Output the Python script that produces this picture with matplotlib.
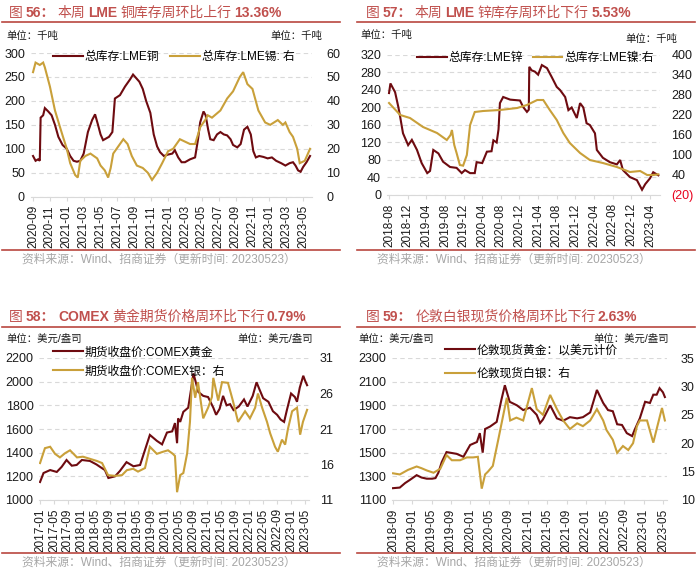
import matplotlib
matplotlib.use('Agg')
import matplotlib.pyplot as plt
from matplotlib.lines import Line2D
import numpy as np

plt.rcParams['font.family'] = ['Liberation Sans', 'Noto Sans CJK SC']
plt.rcParams['axes.unicode_minus'] = False

# ---------------- data (t = months since first x tick) ----------------
# fig 56: LME copper (left, kt) / LME tin (right, kt), t=0 -> 2020-09
cu_t = [0, 0.3, 0.6, 0.8, 0.9, 1.2, 1.4, 1.8, 2.2, 2.6, 3.0, 3.5, 4.0, 4.4, 4.8, 5.2, 5.6, 6.0, 6.5, 7.0,
        7.35, 7.7, 8.0, 8.3, 8.7, 9.0, 9.4, 9.7, 10.3, 10.9, 11.5, 11.85, 12.2, 12.6, 13.0, 13.4, 13.9, 14.3,
        14.7, 15.05, 15.5, 16.0, 16.5, 16.8, 17.2, 17.6, 18.0, 18.6, 19.2, 19.55, 19.8, 20.2, 20.45, 20.75,
        21.0, 21.4, 21.8, 22.2, 22.6, 23.0, 23.4, 23.7, 24.2, 24.6, 25.0, 25.4, 25.8, 26.1, 26.4, 26.8, 27.3,
        27.8, 28.3, 28.8, 29.4, 29.9, 30.4, 30.8, 31.1, 31.4, 31.7, 32.0, 32.4, 32.82]
cu_v = [85, 75, 78, 75, 165, 170, 185, 178, 170, 150, 125, 108, 100, 85, 75, 73, 75, 90, 135, 160,
        172, 150, 130, 118, 122, 125, 135, 205, 212, 230, 245, 255, 248, 240, 225, 200, 175, 130,
        105, 93, 85, 88, 90, 97, 82, 72, 72, 78, 82, 120, 155, 178, 170, 140,
        120, 118, 130, 135, 130, 128, 120, 108, 103, 110, 140, 146, 130, 95, 82, 85, 83,
        80, 82, 75, 70, 65, 70, 72, 65, 55, 52, 62, 72, 85]
sn_t = [0, 0.3, 0.8, 1.2, 1.4, 1.7, 2.0, 2.6, 3.2, 3.55, 4.0, 4.4, 5.0, 5.3, 5.6, 6.2, 6.8, 7.6, 8.0, 8.5,
        8.9, 9.2, 9.5, 10.1, 10.7, 11.2, 11.7, 12.3, 13.0, 13.6, 14.1, 14.7, 15.3, 16.0, 16.6, 17.4, 18.0,
        18.6, 19.2, 19.55, 19.8, 20.4, 20.7, 21.2, 22.2, 23.0, 23.7, 24.5, 24.9, 25.4, 26.0, 26.7, 27.5,
        28.1, 29.0, 29.6, 29.9, 30.4, 30.8, 31.3, 31.6, 32.2, 32.82]
sn_v = [52, 56, 55, 56, 54, 50, 46, 36, 29, 25, 20, 14, 9, 8, 15, 17, 18, 16, 13, 11,
        8, 12, 18, 21, 24, 22, 17, 13, 12, 10, 7, 10, 14, 19, 20, 24, 23,
        22, 22, 26, 29, 32, 34, 33, 36, 41, 44, 50, 52, 47, 45, 36, 31,
        30, 32, 30, 31, 27, 25, 20, 14, 15, 20]
x56 = ['2020-09', '2020-11', '2021-01', '2021-03', '2021-05', '2021-07', '2021-09', '2021-11', '2022-01',
       '2022-03', '2022-05', '2022-07', '2022-09', '2022-11', '2023-01', '2023-03', '2023-05']

# fig 57: LME zinc (left) / LME nickel (right), t=0 -> 2018-08
zn_t = [0.0, 0.3, 1.3, 2.0, 2.4, 3.0, 4.1, 4.9, 6.0, 7.0, 8.2, 8.8, 9.5, 10.6, 11.6, 13.1, 14.5, 15.6, 16.3,
        17.4, 18.4, 18.8, 20.0, 21.0, 22.0, 22.4, 23.1, 23.5, 23.8, 24.5, 26.0, 28.1, 28.8, 29.6, 30.0,
        30.1, 30.6, 31.3, 32.0, 32.8, 33.9, 34.9, 36.0, 36.7, 37.8, 38.5, 39.2, 40.3, 41.0, 41.7, 42.4,
        43.1, 44.2, 44.6, 45.9, 47.4, 48.9, 49.6, 50.2, 51.7, 53.2, 54.3, 55.0, 56.0, 56.7, 57.8]
zn_v = [233, 255, 235, 201, 178, 141, 114, 126, 103, 73, 50, 55, 103, 95, 76, 64, 62, 50, 57,
        50, 50, 75, 73, 99, 100, 125, 120, 150, 210, 224, 218, 216, 201, 190, 195,
        293, 285, 282, 275, 297, 290, 270, 247, 240, 224, 194, 200, 176, 210, 200, 164,
        160, 141, 103, 85, 75, 70, 80, 57, 41, 34, 12, 25, 38, 52, 45]
ni_t = [0, 2.4, 4.5, 7.3, 10.3, 12.4, 13.2, 13.5, 14.0, 14.5, 15.2, 15.9, 16.7, 17.4, 18.4, 20.2, 23.8,
        27.5, 29.6, 31.8, 33.1, 34.5, 36.0, 37.4, 38.8, 41.0, 43.1, 45.9, 48.9, 51.7, 53.9, 55.4, 56.7, 57.8]
ni_v = [256, 220, 211, 184, 166, 145, 160, 175, 130, 106, 70, 68, 100, 190, 229, 232, 235,
        241, 250, 265, 265, 235, 205, 166, 136, 106, 85, 76, 64, 49, 52, 40, 40, 42]
x57 = ['2018-08', '2018-12', '2019-04', '2019-08', '2019-12', '2020-04', '2020-08', '2020-12', '2021-04',
       '2021-08', '2021-12', '2022-04', '2022-08', '2022-12', '2023-04']

# fig 58: COMEX gold (left) / COMEX silver (right), t=0 -> 2017-01
au_t = [0, 1.0, 2.9, 4.8, 6.2, 7.6, 9.1, 10.5, 12.0, 14.3, 16.2, 17.2, 18.6, 19.6, 21.5, 22.9, 24.8, 26.8,
        28.7, 30.1, 31.5, 33.5, 35.0, 36.4, 37.9, 38.7, 39.3, 39.6, 40.2, 41.1, 42.5, 43.5, 44.0, 45.4,
        46.8, 48.2, 49.7, 50.5, 51.5, 52.5, 53.5, 54.5, 55.5, 57.0, 58.5, 59.5, 61.0, 62.1, 63.0, 64.0,
        65.5, 66.8, 68.0, 69.0, 70.0, 70.8, 72.0, 73.1, 73.7, 74.5, 75.5, 76.0, 76.6]
au_v = [1152, 1228, 1253, 1237, 1280, 1338, 1290, 1296, 1338, 1330, 1300, 1280, 1253, 1186, 1200, 1245,
        1320, 1285, 1296, 1423, 1550, 1500, 1470, 1570, 1580, 1650, 1480, 1690, 1660, 1745, 1780, 1970,
        2070, 1913, 1880, 1870, 1780, 1720, 1770, 1880, 1800, 1810, 1760, 1790, 1850, 1790, 1880, 1995,
        1930, 1860, 1830, 1750, 1720, 1680, 1660, 1760, 1900, 1870, 1830, 1950, 2050, 2010, 1970]
ag_t = [0, 1.4, 2.9, 4.3, 5.7, 7.2, 8.6, 10.6, 12.3, 14.3, 16.3, 17.8, 19.5, 21.5, 23.5, 24.9, 26.7, 28.1,
        30.1, 31.5, 33.5, 35.3, 36.7, 38.1, 38.7, 39.3, 40.2, 41.1, 42.2, 43.0, 43.6, 44.5, 45.3, 46.8,
        48.2, 49.3, 49.7, 51.1, 52.2, 53.9, 55.3, 56.8, 58.8, 60.2, 61.7, 62.5, 63.7, 65.1, 66.0, 67.4,
        68.2, 69.4, 70.3, 71.1, 72.3, 73.7, 74.6, 75.4, 76.6]
ag_v = [16.2, 18.3, 18.5, 17.5, 17.0, 17.6, 18.0, 17.0, 17.1, 16.8, 16.5, 16.2, 14.5, 14.4, 14.5, 15.2,
        15.4, 15.0, 15.5, 18.5, 17.5, 17.8, 18.0, 17.5, 17.2, 12.1, 14.5, 14.8, 17.6, 22.0, 28.2, 25.4,
        27.6, 22.5, 24.0, 25.5, 28.2, 25.0, 27.6, 27.5, 25.0, 22.0, 23.5, 22.5, 24.0, 26.0, 24.0, 22.0,
        20.4, 18.5, 17.8, 19.5, 18.8, 21.0, 23.5, 24.0, 20.2, 22.0, 23.7]
x58 = ['2017-01', '2017-05', '2017-09', '2018-01', '2018-05', '2018-09', '2019-01', '2019-05', '2019-09',
       '2020-01', '2020-05', '2020-09', '2021-01', '2021-05', '2021-09', '2022-01', '2022-05', '2022-09',
       '2023-01', '2023-05']

# fig 59: London spot gold (left) / London spot silver (right), t=0 -> 2018-09
lg_t = [0, 1.4, 2.5, 3.5, 4.9, 5.9, 7.0, 8.1, 8.8, 9.4, 10.1, 11.1, 11.8, 13.2, 14.6, 16.0, 17.4, 18.0,
        18.6, 19.1, 20.1, 21.5, 22.5, 23.2, 24.2, 25.7, 27.0, 28.4, 29.8, 30.5, 31.1, 32.6, 34.0, 35.3,
        36.7, 38.2, 39.4, 40.9, 42.3, 43.6, 44.6, 45.6, 46.5, 47.5, 48.5, 49.6, 50.2, 51.2, 52.3, 53.3,
        54.0, 54.7, 55.3, 56.0, 56.4]
lg_v = [1200, 1205, 1243, 1270, 1310, 1290, 1280, 1280, 1285, 1330, 1420, 1505, 1500, 1490, 1465, 1565,
        1590, 1665, 1500, 1700, 1720, 1760, 1950, 2070, 1930, 1900, 1860, 1880, 1820, 1750, 1780, 1900,
        1790, 1770, 1800, 1790, 1800, 1840, 2030, 1920, 1860, 1850, 1740, 1734, 1665, 1640, 1700, 1790,
        1930, 1920, 1990, 1990, 2045, 2010, 1970]
ls_t = [0, 1.4, 3.1, 4.9, 5.9, 7.0, 8.4, 9.8, 11.1, 12.2, 13.9, 15.3, 16.6, 17.6, 18.4, 19.1, 19.7, 20.7,
        21.8, 23.6, 24.3, 25.6, 27.0, 28.8, 29.8, 31.1, 32.6, 34.0, 35.3, 36.7, 38.2, 39.4, 40.9, 42.3,
        43.6, 44.3, 45.6, 46.5, 47.7, 48.8, 49.8, 50.6, 51.2, 52.7, 54.0, 54.7, 55.8, 56.4]
ls_v = [14.7, 14.5, 15.3, 15.9, 15.6, 15.2, 14.8, 15.5, 17.9, 17.0, 17.0, 17.5, 17.5, 17.6, 12.0, 14.5,
        15.0, 16.0, 20.5, 28.0, 24.0, 24.5, 24.0, 29.7, 26.0, 25.0, 28.5, 26.0, 24.0, 22.5, 23.5, 23.0,
        24.0, 26.0, 24.0, 22.3, 20.6, 18.3, 19.5, 18.8, 20.0, 23.0, 24.0, 24.0, 20.1, 22.5, 26.2, 24.0]
x59 = ['2018-09', '2019-01', '2019-05', '2019-09', '2020-01', '2020-05', '2020-09', '2021-01', '2021-05',
       '2021-09', '2022-01', '2022-05', '2022-09', '2023-01', '2023-05']

# ---------------- style ----------------
W, H = 700, 572
DARK = '#6E0B10'
GOLD = '#C9A03A'
TITLE_C = '#C0504D'
RULE_C = '#B9473F'
GRID_C = '#D9D9D9'
TXT_C = '#1A1A1A'
SRC_C = '#A6A6A6'
SOURCE = '资料来源：Wind、招商证券（更新时间: 20230523）'

fig = plt.figure(figsize=(W / 100, H / 100), dpi=100)
fig.patch.set_facecolor('white')
renderer = fig.canvas.get_renderer()


def px(x, y):
    return x / W, 1 - y / H


def box(x0, y0, x1, y1):
    return [x0 / W, 1 - y1 / H, (x1 - x0) / W, (y1 - y0) / H]


def rule(x0, x1, y):
    fig.add_artist(Line2D([x0 / W, x1 / W], [1 - y / H] * 2, transform=fig.transFigure,
                          color=RULE_C, lw=1.2))


def title(x, y, parts):
    # parts: (text, bold, gap after in px)
    for s, bold, gap in parts:
        t = fig.text(*px(x, y), s, fontsize=10, color=TITLE_C, va='center', ha='left',
                     fontweight='bold' if bold else 'normal')
        x += t.get_window_extent(renderer).width + gap


def panel(rect, xlim, t1, v1, t2, v2, ylim, yticks, ylim2, yticks2, xlabels, xstep,
          lab1, lab2, leg_xy, ncol, colsp, ylab2=None, pad2=8, lsp=0.6):
    ax = fig.add_axes(rect)
    ax2 = ax.twinx()
    l1, = ax.plot(t1, v1, color=DARK, lw=1.5, solid_joinstyle='miter')
    l2, = ax2.plot(t2, v2, color=GOLD, lw=1.5, solid_joinstyle='miter')
    ax.set_xlim(*xlim)
    ax.set_ylim(*ylim)
    ax2.set_ylim(*ylim2)
    ax.set_yticks(yticks)
    ax2.set_yticks(yticks2)
    if ylab2 is not None:
        ax2.set_yticklabels(ylab2)
    ax.set_xticks(np.arange(len(xlabels)) * xstep)
    ax.set_xticklabels(xlabels, rotation=90)
    ax.yaxis.grid(True, color=GRID_C, ls=(0, (4, 3)), lw=0.8)
    ax.set_axisbelow(True)
    for a in (ax, ax2):
        for s in a.spines.values():
            s.set_visible(False)
    ax.spines['bottom'].set_visible(True)
    ax.spines['bottom'].set_color(GRID_C)
    ax.tick_params(axis='y', length=0, labelsize=9, pad=4, labelcolor=TXT_C)
    ax.tick_params(axis='x', length=3, color=GRID_C, labelsize=8.5, pad=3, labelcolor=TXT_C)
    ax2.tick_params(axis='y', length=0, labelsize=9, pad=pad2, labelcolor=TXT_C)
    ax2.legend([l1, l2], [lab1, lab2], loc='center left', bbox_to_anchor=px(*leg_xy),
               bbox_transform=fig.transFigure, ncol=ncol, frameon=False, fontsize=8.5,
               handlelength=2.5, handletextpad=0.2, columnspacing=colsp, borderpad=0,
               borderaxespad=0, labelspacing=lsp)
    return ax, ax2


# ---------------- fig 56 ----------------
title(9, 13, [('图', False, 3), ('56：', True, 2), ('本周', False, 3), ('LME', True, 3),
              ('铜库存周环比上行', False, 3), ('13.36%', True, 0)])
rule(2, 340, 22)
fig.text(*px(6, 36), '单位：千吨', fontsize=7.5, color=TXT_C, va='center')
fig.text(*px(270, 36), '单位：千吨', fontsize=7.5, color=TXT_C, va='center')
panel(box(30.5, 53, 312.4, 196.7), (-0.3, 33.1), cu_t, cu_v, sn_t, sn_v,
      (0, 300), np.arange(0, 301, 50), (0, 60), np.arange(0, 61, 10), x56, 2,
      '总库存:LME铜', '总库存:LME锡: 右', (53, 57), 2, 0.9, pad2=10)
rule(2, 340, 250)
fig.text(*px(22, 260), SOURCE, fontsize=8.5, color=SRC_C, va='center')

# ---------------- fig 57 ----------------
title(366, 13, [('图', False, 3), ('57：', True, 2), ('本周', False, 3), ('LME', True, 3),
                ('锌库存周环比下行', False, 3), ('5.53%', True, 0)])
rule(357, 695, 22)
fig.text(*px(360, 35), '单位：千吨', fontsize=7.5, color=TXT_C, va='center')
fig.text(*px(625, 39), '单位：千吨', fontsize=7.5, color=TXT_C, va='center')
nt = np.arange(-20, 401, 60)
nl = ['(%d)' % -v if v < 0 else '%d' % v for v in nt]
_, a57 = panel(box(386.7, 55, 660.2, 195), (-0.5, 58.2), zn_t, zn_v, ni_t, ni_v,
               (0, 320), np.arange(0, 321, 40), (-20, 400), nt, x57, 4,
               '总库存:LME锌', '总库存:LME镍:右', (417, 58), 2, 0.8, ylab2=nl, pad2=8)
for lab, v in zip(a57.get_yticklabels(), nt):
    if v < 0:
        lab.set_color('#E8001C')
rule(357, 695, 250)
fig.text(*px(377, 260), SOURCE, fontsize=8.5, color=SRC_C, va='center')

# ---------------- fig 58 ----------------
title(9, 317, [('图', False, 3), ('58：', True, 3), ('COMEX', True, 3),
               ('黄金期货价格周环比下行', False, 2), ('0.79%', True, 0)])
rule(2, 340, 327)
fig.text(*px(6, 339), '单位：美元/盎司', fontsize=7.5, color=TXT_C, va='center')
fig.text(*px(237, 339), '单位：美元/盎司', fontsize=7.5, color=TXT_C, va='center')
panel(box(39, 358, 308.5, 500), (-0.3, 77), au_t, au_v, ag_t, ag_v,
      (1000, 2200), np.arange(1000, 2201, 200), (11, 31), np.arange(11, 32, 5), x58, 4,
      '期货收盘价:COMEX黄金', '期货收盘价:COMEX银：右', (53, 362), 1, 2, pad2=8)
rule(2, 340, 553)
fig.text(*px(22, 563), SOURCE, fontsize=8.5, color=SRC_C, va='center')

# ---------------- fig 59 ----------------
title(366, 317, [('图', False, 3), ('59：', True, 3), ('伦敦白银现货价格周环比下行', False, 2),
                 ('2.63%', True, 0)])
rule(357, 695, 327)
fig.text(*px(358, 339), '单位：美元/盎司', fontsize=7.5, color=TXT_C, va='center')
fig.text(*px(593, 339), '单位：美元/盎司', fontsize=7.5, color=TXT_C, va='center')
panel(box(391.6, 358, 666.8, 500), (-0.3, 56.8), lg_t, lg_v, ls_t, ls_v,
      (1100, 2300), np.arange(1100, 2301, 200), (10, 35), np.arange(10, 36, 5), x59, 4,
      '伦敦现货黄金：以美元计价', '伦敦现货白银：右', (445, 362), 1, 2, pad2=10, lsp=1.0)
rule(357, 695, 553)
fig.text(*px(377, 563), SOURCE, fontsize=8.5, color=SRC_C, va='center')

fig.savefig('out.png', dpi=100, facecolor='white')
